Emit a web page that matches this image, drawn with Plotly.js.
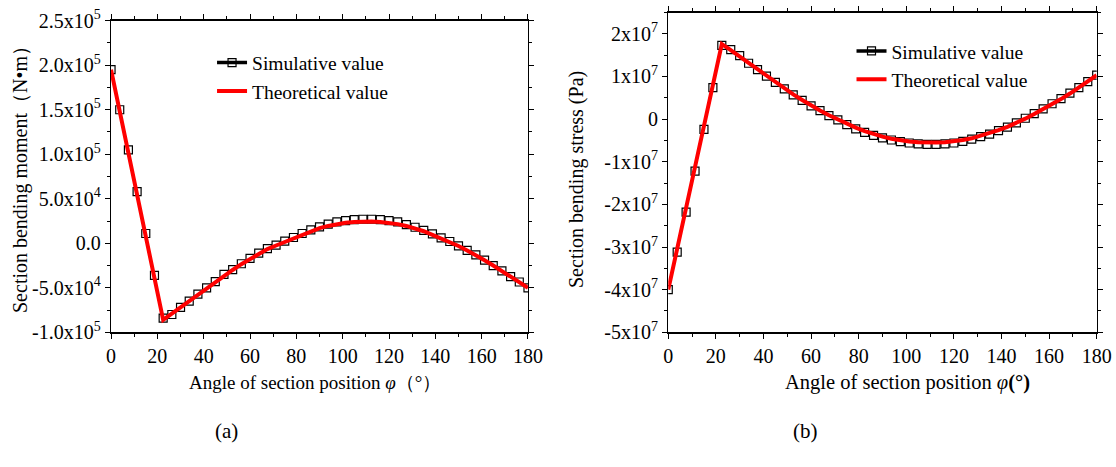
<!DOCTYPE html>
<html>
<head>
<meta charset="utf-8">
<script src="https://cdn.plot.ly/plotly-3.0.1.min.js"></script>
<style>html,body{margin:0;padding:0;background:#fff;}#chart{width:1116px;height:467px;}</style>
</head>
<body>
<div id="chart"></div>
<script>
// ---------- data ----------
const angleSim = [0,3.75,7.5,11.25,15,18.75,22.5,26.25,30,33.75,37.5,41.25,45,48.75,52.5,56.25,60,63.75,67.5,71.25,75,78.75,82.5,86.25,90,93.75,97.5,101.25,105,108.75,112.5,116.25,120,123.75,127.5,131.25,135,138.75,142.5,146.25,150,153.75,157.5,161.25,165,168.75,172.5,176.25,180];
const angleTheory = [0,22.5,26.25,30,33.75,37.5,41.25,45,48.75,52.5,56.25,60,63.75,67.5,71.25,75,78.75,82.5,86.25,90,93.75,97.5,101.25,105,108.75,112.5,116.25,120,123.75,127.5,131.25,135,138.75,142.5,146.25,150,153.75,157.5,161.25,165,168.75,172.5,176.25,180];

const momentSim = [195000,150000,105000,58000,11000,-36000,-84000,-80000,-72000,-65000,-57000,-50000,-43000,-35000,-29500,-23000,-17000,-11000,-6000,-2000,2500,6500,11000,15000,18500,21500,24000,25500,26500,27000,27000,26500,25500,24000,21000,18000,14500,10500,6000,2000,-3000,-8000,-13000,-19000,-25000,-31000,-37500,-43500,-50000];
const momentTheory = [195000,-86000,-79000,-72000,-64500,-57000,-50000,-43000,-36000,-30000,-23500,-17500,-11500,-6500,-2500,1500,5500,9500,13500,17000,19500,21500,23000,24000,24500,24500,24000,23000,21500,19500,17000,13500,9500,5500,1500,-3000,-8000,-13000,-19000,-25000,-31000,-37500,-43500,-50000];

const stressSim = [-4.0e7,-3.12e7,-2.18e7,-1.22e7,-2.4e6,7.4e6,1.73e7,1.63e7,1.49e7,1.31e7,1.16e7,1.01e7,8.6e6,7.1e6,5.7e6,4.4e6,3.1e6,2.0e6,8e5,-2e5,-1.3e6,-2.3e6,-3.1e6,-3.8e6,-4.4e6,-4.9e6,-5.3e6,-5.6e6,-5.8e6,-5.9e6,-5.9e6,-5.8e6,-5.6e6,-5.2e6,-4.7e6,-4.1e6,-3.5e6,-2.7e6,-1.9e6,-9e5,2e5,1.3e6,2.4e6,3.6e6,4.8e6,6.1e6,7.4e6,8.8e6,1.03e7];
const stressTheory = [-4.0e7,1.76e7,1.62e7,1.48e7,1.32e7,1.17e7,1.02e7,8.7e6,7.2e6,5.8e6,4.5e6,3.2e6,2.0e6,9e5,-1e5,-1.1e6,-2.0e6,-2.8e6,-3.5e6,-4.1e6,-4.6e6,-5.0e6,-5.25e6,-5.4e6,-5.5e6,-5.5e6,-5.4e6,-5.25e6,-4.9e6,-4.5e6,-3.9e6,-3.3e6,-2.6e6,-1.8e6,-9e5,1e5,1.2e6,2.3e6,3.5e6,4.7e6,6.0e6,7.4e6,8.8e6,1.03e7];

const xTicks = [0,20,40,60,80,100,120,140,160,180];
const momentTickVals = [-100000,-50000,0,50000,100000,150000,200000,250000];
const momentTickText = ['-1.0x10<sup>5</sup>','-5.0x10<sup>4</sup>','0.0','5.0x10<sup>4</sup>','1.0x10<sup>5</sup>','1.5x10<sup>5</sup>','2.0x10<sup>5</sup>','2.5x10<sup>5</sup>'];
const stressTickVals = [-5e7,-4e7,-3e7,-2e7,-1e7,0,1e7,2e7];
const stressTickText = ['-5x10<sup>7</sup>','-4x10<sup>7</sup>','-3x10<sup>7</sup>','-2x10<sup>7</sup>','-1x10<sup>7</sup>','0','1x10<sup>7</sup>','2x10<sup>7</sup>'];

const simName = 'Simulative value';
const theoryName = 'Theoretical value';
const xTitleA = 'Angle of section position <i>φ</i>（°）';
const xTitleB = 'Angle of section position <i>φ</i><b>(°)</b>';
const yTitleA = 'Section bending moment（N•m）';
const yTitleB = 'Section bending stress (Pa)';

// ---------- styles ----------
const FONT = '"Liberation Serif", "Times New Roman", serif';
const simMarker = {symbol:'square-open', size:8, color:'#000', line:{width:1.2, color:'#000'}};
const redLine = {color:'#ff0000', width:4};

const traces = [
  // panel (a)
  {x:angleSim, y:momentSim, mode:'markers', marker:simMarker, showlegend:false, xaxis:'x', yaxis:'y'},
  {x:angleTheory, y:momentTheory, mode:'lines', line:redLine, showlegend:false, xaxis:'x', yaxis:'y'},
  {x:[null], y:[null], mode:'lines+markers', name:simName, line:{color:'#000', width:3.5}, marker:simMarker, xaxis:'x', yaxis:'y', legend:'legend'},
  {x:[null], y:[null], mode:'lines', name:theoryName, line:redLine, xaxis:'x', yaxis:'y', legend:'legend'},
  // panel (b)
  {x:angleSim, y:stressSim, mode:'markers', marker:simMarker, showlegend:false, xaxis:'x2', yaxis:'y2'},
  {x:angleTheory, y:stressTheory, mode:'lines', line:redLine, showlegend:false, xaxis:'x2', yaxis:'y2'},
  {x:[null], y:[null], mode:'lines+markers', name:simName, line:{color:'#000', width:3.5}, marker:simMarker, xaxis:'x2', yaxis:'y2', legend:'legend2'},
  {x:[null], y:[null], mode:'lines', name:theoryName, line:redLine, xaxis:'x2', yaxis:'y2', legend:'legend2'}
];

function xAxis(domain, anchor){
  return {domain:domain, anchor:anchor, range:[0,180], tickmode:'array', tickvals:xTicks,
    ticks:'outside', ticklen:5, tickwidth:1, tickcolor:'#000',
    minor:{tickmode:'linear', tick0:0, dtick:10, ticks:'outside', ticklen:3, tickcolor:'#000'},
    showline:true, linecolor:'#000', linewidth:1.3, mirror:'ticks', showgrid:false, zeroline:false,
    tickfont:{family:FONT, size:20, color:'#000'}};
}
function yAxis(domain, anchor, range, vals, text, dminor){
  return {domain:domain, anchor:anchor, range:range, tickmode:'array', tickvals:vals, ticktext:text,
    ticks:'outside', ticklen:5, tickwidth:1, tickcolor:'#000',
    minor:{tickmode:'linear', tick0:0, dtick:dminor, ticks:'outside', ticklen:3, tickcolor:'#000'},
    showline:true, linecolor:'#000', linewidth:1.3, mirror:'ticks', showgrid:false, zeroline:false,
    tickfont:{family:FONT, size:20, color:'#000'}};
}

const annFont = {family:FONT, size:19, color:'#000'};
const yTitleFont = {family:FONT, size:20, color:'#000'};
const legendFont = {family:FONT, size:19.5, color:'#000'};
const layout = {
  width:1116, height:467,
  margin:{l:0, r:0, t:0, b:0},
  paper_bgcolor:'#fff', plot_bgcolor:'#fff',
  showlegend:true,
  xaxis: xAxis([0.0995,0.4731],'y'),
  yaxis: yAxis([0.2884,0.9557],'x',[-100000,250000],momentTickVals,momentTickText,25000),
  xaxis2: xAxis([0.5988,0.9827],'y2'),
  yaxis2: yAxis([0.2884,0.9732],'x2',[-5e7,2.5e7],stressTickVals,stressTickText,5e6),
  legend:{x:0.190, y:0.907, xanchor:'left', yanchor:'top', bgcolor:'rgba(0,0,0,0)',
    font:legendFont, tracegroupgap:0},
  legend2:{x:0.763, y:0.932, xanchor:'left', yanchor:'top', bgcolor:'rgba(0,0,0,0)',
    font:legendFont, tracegroupgap:0},
  annotations:[
    {text:xTitleA, xref:'paper', yref:'paper', x:315/1116, y:1-382/467, xanchor:'center', yanchor:'middle', showarrow:false, font:annFont},
    {text:xTitleB, xref:'paper', yref:'paper', x:907/1116, y:1-382/467, xanchor:'center', yanchor:'middle', showarrow:false, font:{family:FONT, size:20.5, color:'#000'}},
    {text:yTitleA, xref:'paper', yref:'paper', x:21/1116, y:1-175/467, xanchor:'center', yanchor:'middle', textangle:-90, showarrow:false, font:yTitleFont},
    {text:yTitleB, xref:'paper', yref:'paper', x:576/1116, y:1-180/467, xanchor:'center', yanchor:'middle', textangle:-90, showarrow:false, font:yTitleFont},
    {text:'(a)', xref:'paper', yref:'paper', x:226/1116, y:1-431/467, xanchor:'center', yanchor:'middle', showarrow:false, font:{family:FONT, size:21, color:'#000'}},
    {text:'(b)', xref:'paper', yref:'paper', x:805/1116, y:1-431/467, xanchor:'center', yanchor:'middle', showarrow:false, font:{family:FONT, size:21, color:'#000'}}
  ]
};

Plotly.newPlot('chart', traces, layout, {staticPlot:true, displayModeBar:false});
</script>
</body>
</html>
